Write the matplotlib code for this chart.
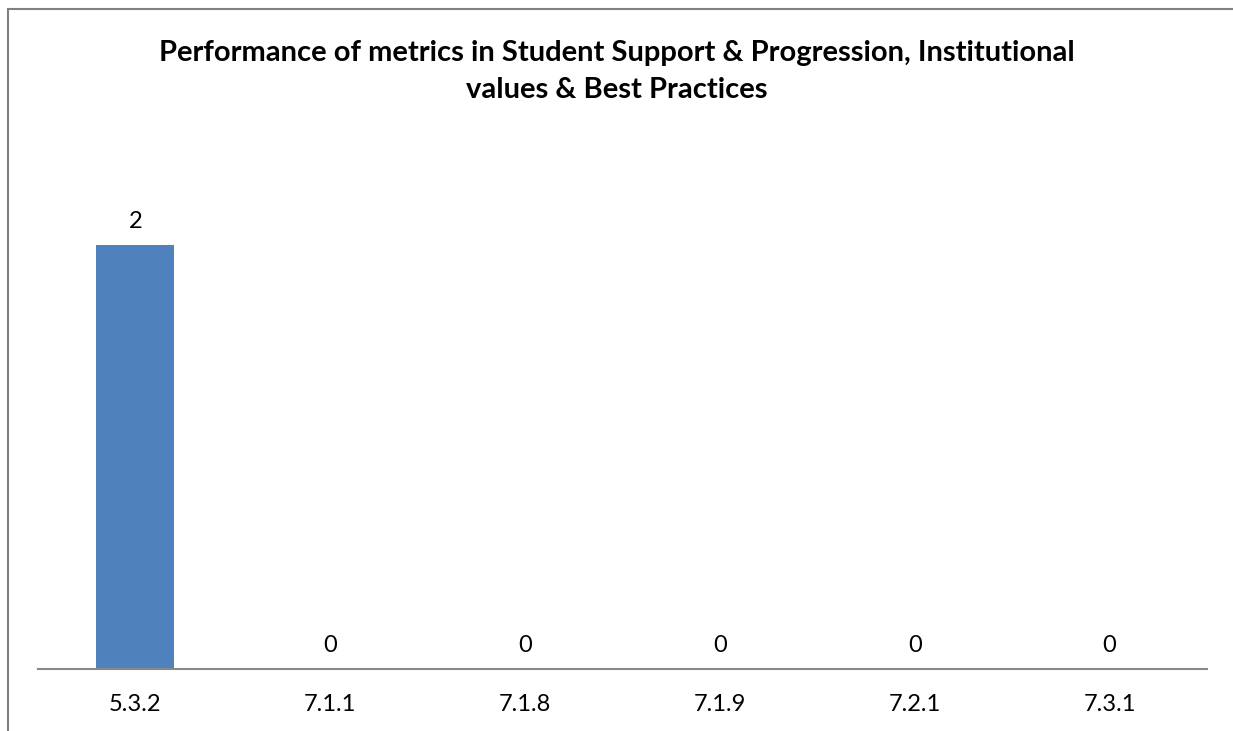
import matplotlib
matplotlib.use("Agg")
import matplotlib.pyplot as plt
from matplotlib.patches import Rectangle

categories = ["5.3.2", "7.1.1", "7.1.8", "7.1.9", "7.2.1", "7.3.1"]
values = [2, 0, 0, 0, 0, 0]
title_lines = ["Performance of metrics in Student Support & Progression, Institutional",
               "values & Best Practices"]

plt.rcParams['font.family'] = ['Lato', 'DejaVu Sans']

W, H = 1233, 731
fig = plt.figure(figsize=(W/100, H/100), dpi=100)
ax = fig.add_axes([38/W, 1-669/H, (1207-38)/W, (669-139)/H])

x = list(range(len(categories)))
bars = ax.bar(x, values, width=0.4, color="#4F81BD", zorder=2)
ax.set_xlim(-0.5, len(categories)-0.5)
ax.set_ylim(0, 2.5)

for xi, v in zip(x, values):
    ax.annotate(str(v), (xi, v), xytext=(0, 9), textcoords="offset points",
                ha="center", va="bottom", fontsize=17, color="black")

ax.set_xticks(x)
ax.set_xticklabels(categories, fontsize=17)
ax.tick_params(axis='x', length=0, pad=18)
ax.set_yticks([])
for s in ["left", "right", "top"]:
    ax.spines[s].set_visible(False)
ax.spines["bottom"].set_color("#888888")
ax.spines["bottom"].set_linewidth(1.5)

for line, ybase in zip(title_lines, [61, 98]):
    fig.text(0.5, 1-ybase/H, line, ha="center", va="baseline", fontsize=21,
             fontweight="bold")

fig.patches.append(Rectangle((8/W, -0.1), 1.2, 1-9/H+0.1, transform=fig.transFigure,
                             fill=False, edgecolor="#808080", linewidth=1.5))

fig.savefig("out.png", dpi=100)
